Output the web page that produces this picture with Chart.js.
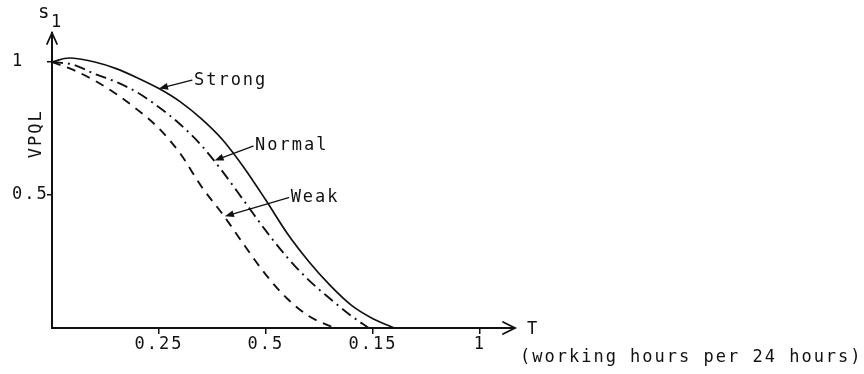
<!DOCTYPE html>
<html>
<head>
<meta charset="utf-8">
<script src="https://cdn.jsdelivr.net/npm/chart.js@4/dist/chart.umd.min.js"></script>
<style>
html, body { margin: 0; padding: 0; background: #fff; }
#wrap { width: 864px; height: 374px; }
</style>
</head>
<body>
<div id="wrap"><canvas id="vpqlChart" width="864" height="374"></canvas></div>
<script>
// T (share of 24 hours) vs VPQL
var strongT = [0, 0.04, 0.10, 0.15, 0.20, 0.25, 0.30, 0.35, 0.40, 0.45, 0.50, 0.55, 0.60, 0.65, 0.70, 0.75, 0.80];
var strongV = [1.0, 1.015, 1.0, 0.975, 0.94, 0.90, 0.85, 0.785, 0.705, 0.60, 0.48, 0.355, 0.25, 0.16, 0.085, 0.035, 0.0];

var normalT = [0, 0.05, 0.10, 0.15, 0.20, 0.25, 0.30, 0.35, 0.40, 0.45, 0.50, 0.55, 0.60, 0.65, 0.70, 0.74];
var normalV = [1.0, 0.99, 0.955, 0.925, 0.885, 0.83, 0.765, 0.685, 0.585, 0.475, 0.365, 0.265, 0.18, 0.11, 0.045, 0.0];

var weakT = [0, 0.05, 0.10, 0.15, 0.20, 0.25, 0.30, 0.35, 0.40, 0.45, 0.50, 0.55, 0.60, 0.66];
var weakV = [1.0, 0.97, 0.93, 0.88, 0.82, 0.75, 0.655, 0.53, 0.425, 0.31, 0.20, 0.11, 0.045, 0.0];

var xTickValues = [0.25, 0.5, 0.75, 1];
var xTickLabels = ['0.25', '0.5', '0.15', '1'];
var yTickValues = [0.5, 1];
var yTickLabels = ['0.5', '1'];

// curve labels with their pointer arrows (data units)
var notes = [
    {text: 'Strong', at: [0.327, 0.932], tip: [0.25, 0.90]},
    {text: 'Normal', at: [0.47, 0.684], tip: [0.38, 0.63]},
    {text: 'Weak', at: [0.553, 0.49], tip: [0.404, 0.42]}
];

var FONT = '17px "DejaVu Sans Mono"';
var INK = '#111';

function toPoints(ts, vs){
    return ts.map(function(t, i){ return {x: t, y: vs[i]}; });
}

function arrowHead(ctx, fx, fy, tx, ty, len, half){
    var ang = Math.atan2(ty - fy, tx - fx);
    ctx.beginPath();
    ctx.moveTo(tx, ty);
    ctx.lineTo(tx - len * Math.cos(ang) + half * Math.sin(ang), ty - len * Math.sin(ang) - half * Math.cos(ang));
    ctx.lineTo(tx - len * Math.cos(ang) - half * Math.sin(ang), ty - len * Math.sin(ang) + half * Math.cos(ang));
    ctx.closePath();
    ctx.fill();
}

var decorations = {
    id: 'decorations',
    beforeDraw: function(chart){
        var ctx = chart.ctx;
        ctx.save();
        ctx.fillStyle = '#fff';
        ctx.fillRect(0, 0, chart.width, chart.height);
        ctx.restore();
        ctx.letterSpacing = '2px';
    },
    afterDraw: function(chart){
        var ctx = chart.ctx, a = chart.chartArea;
        var xs = chart.scales.x, ys = chart.scales.y;
        ctx.save();
        ctx.strokeStyle = INK;
        ctx.fillStyle = INK;
        ctx.lineWidth = 1.8;
        ctx.lineCap = 'round';

        // axis arrow heads
        ctx.beginPath();
        ctx.moveTo(a.right - 12, a.bottom - 6);
        ctx.lineTo(a.right, a.bottom);
        ctx.lineTo(a.right - 12, a.bottom + 6);
        ctx.stroke();
        ctx.beginPath();
        ctx.moveTo(a.left - 5, a.top + 11);
        ctx.lineTo(a.left, a.top);
        ctx.lineTo(a.left + 5, a.top + 11);
        ctx.stroke();

        ctx.font = FONT;
        ctx.letterSpacing = '2px';
        ctx.textBaseline = 'middle';
        ctx.textAlign = 'left';

        // axis names
        ctx.fillText('T', a.right + 12, a.bottom + 2);
        ctx.fillText('(working hours per 24 hours)', a.right + 5, a.bottom + 30);
        ctx.font = '19px "DejaVu Sans Mono"';
        ctx.fillText('s', a.left - 14, 13);
        ctx.font = FONT;
        ctx.fillText('1', a.left - 1, 23);

        ctx.save();
        ctx.translate(a.left - 15, ys.getPixelForValue(0.73));
        ctx.rotate(-Math.PI / 2);
        ctx.textAlign = 'center';
        ctx.fillText('VPQL', 0, 0);
        ctx.restore();

        // curve labels
        ctx.lineWidth = 1.3;
        notes.forEach(function(n){
            var tx = xs.getPixelForValue(n.at[0]), ty = ys.getPixelForValue(n.at[1]);
            var px = xs.getPixelForValue(n.tip[0]), py = ys.getPixelForValue(n.tip[1]);
            ctx.fillText(n.text, tx + 2, ty);
            ctx.beginPath();
            ctx.moveTo(tx, ty);
            ctx.lineTo(px + (tx - px) * 0.08, py + (ty - py) * 0.08);
            ctx.stroke();
            arrowHead(ctx, tx, ty, px, py, 9, 3.5);
        });
        ctx.restore();
    }
};

var canvas = document.getElementById('vpqlChart').getContext('2d');
var chart = new Chart(canvas, {
    type: 'line',
    data: {
        datasets: [
            {
                label: 'Strong',
                data: toPoints(strongT, strongV),
                borderColor: INK,
                borderWidth: 1.7,
                pointRadius: 0,
                cubicInterpolationMode: 'monotone'
            },
            {
                label: 'Normal',
                data: toPoints(normalT, normalV),
                borderColor: INK,
                borderWidth: 1.9,
                borderDash: [11, 5, 2, 5],
                pointRadius: 0,
                cubicInterpolationMode: 'monotone'
            },
            {
                label: 'Weak',
                data: toPoints(weakT, weakV),
                borderColor: INK,
                borderWidth: 1.9,
                borderDash: [9, 7],
                pointRadius: 0,
                cubicInterpolationMode: 'monotone'
            }
        ]
    },
    options: {
        responsive: false,
        animation: false,
        layout: {padding: {left: 12, right: 349, top: 33, bottom: 0}},
        plugins: {legend: {display: false}, tooltip: {enabled: false}},
        scales: {
            x: {
                type: 'linear',
                min: 0,
                max: 1.082,
                border: {display: true, color: INK, width: 2},
                grid: {display: true, drawOnChartArea: false, drawTicks: true, tickLength: 6, color: INK, lineWidth: 1.5},
                afterBuildTicks: function(scale){
                    scale.ticks = xTickValues.map(function(v){ return {value: v}; });
                },
                afterFit: function(scale){ scale.height = 46; },
                ticks: {
                    color: INK,
                    font: {family: 'DejaVu Sans Mono', size: 17},
                    padding: 0,
                    maxRotation: 0,
                    autoSkip: false,
                    callback: function(value, index){ return xTickLabels[index]; }
                }
            },
            y: {
                type: 'linear',
                min: 0,
                max: 1.109,
                border: {display: true, color: INK, width: 2},
                grid: {display: true, drawOnChartArea: false, drawTicks: true, tickLength: 5, color: INK, lineWidth: 1.5},
                afterBuildTicks: function(scale){
                    scale.ticks = yTickValues.map(function(v){ return {value: v}; });
                },
                afterFit: function(scale){ scale.width = 40; },
                ticks: {
                    color: INK,
                    font: {family: 'DejaVu Sans Mono', size: 17},
                    crossAlign: 'far',
                    autoSkip: false,
                    callback: function(value, index){ return yTickLabels[index]; }
                }
            }
        }
    },
    plugins: [decorations]
});
</script>
</body>
</html>
